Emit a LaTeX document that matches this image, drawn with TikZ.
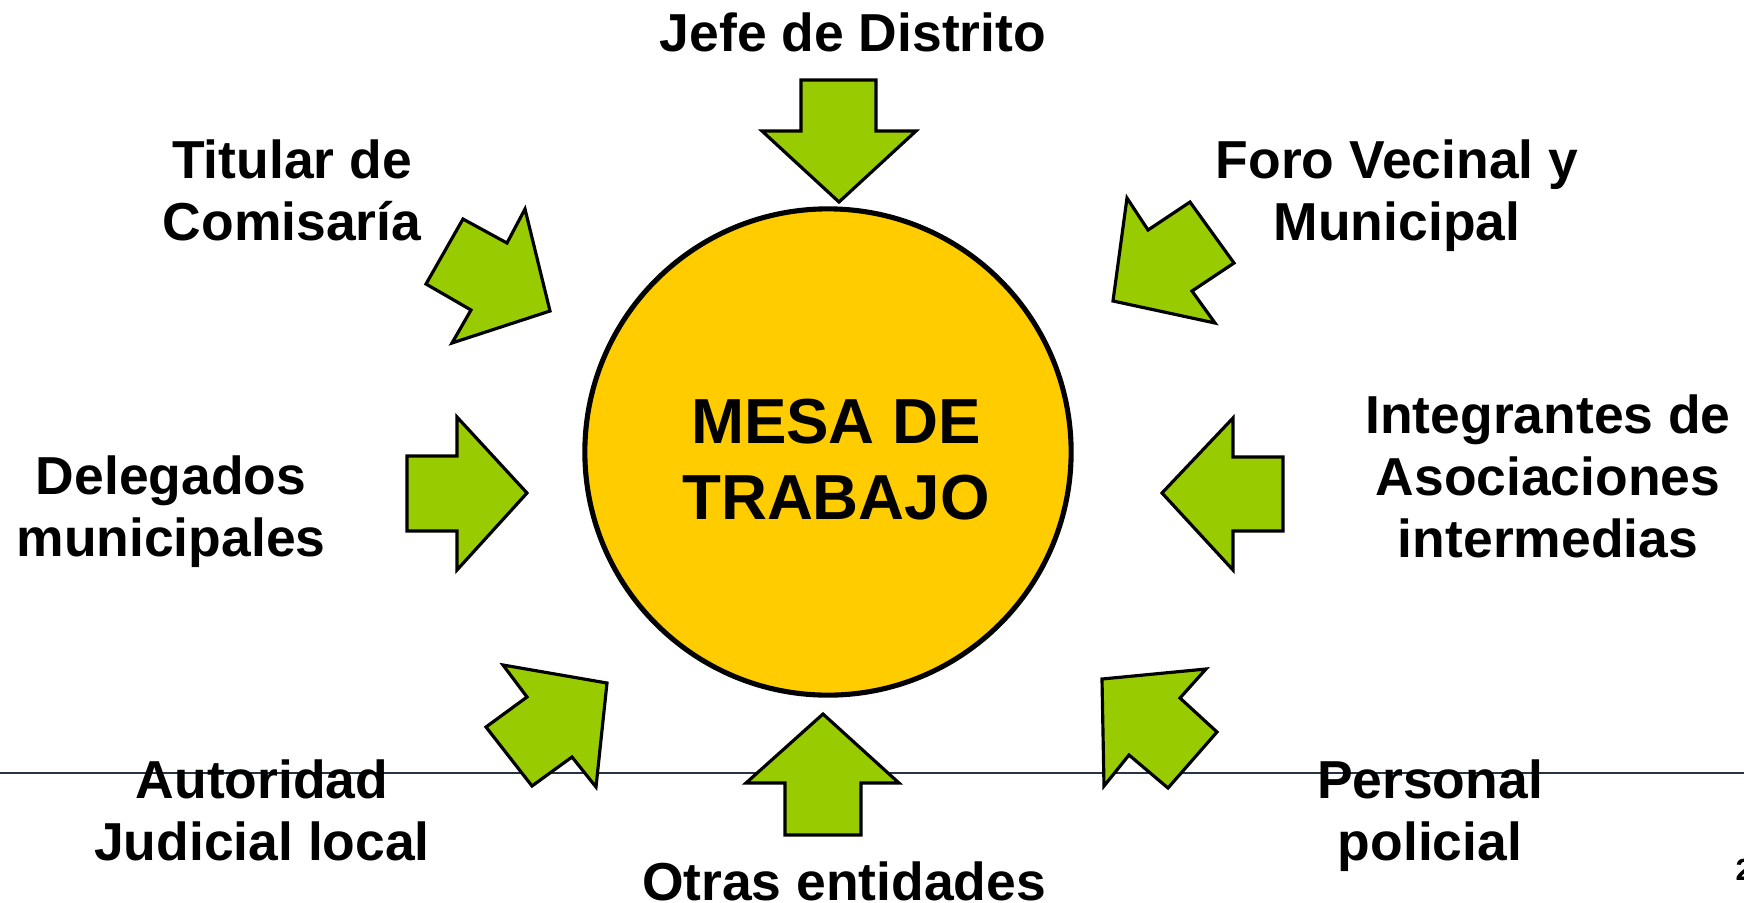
\documentclass[tikz,border=0pt]{standalone}
\usepackage{fontspec}
\setmainfont{Liberation Sans}
\usepackage{tikz}

\definecolor{verde}{RGB}{153,204,0}
\definecolor{amarillo}{RGB}{255,204,0}
\definecolor{raya}{RGB}{38,52,68}

\begin{document}
\begin{tikzpicture}[x=0.01cm,y=-0.01cm]
	\useasboundingbox (0,0) rectangle (1744,902);
	
	\tikzstyle{flecha}=[fill=verde,draw=black,line width=0.9pt,line join=miter]
	
	\tikzstyle{rotulo}=[inner sep=0pt,anchor=base,align=center,font=\fontsize{15.2}{17.6}\selectfont\bfseries]
	
	\draw[raya,line width=0.45pt] (0,773) -- (1744,773);
	
	\node[draw,line width=1.45pt,fill=amarillo,shape=circle,minimum size=4.86cm,inner sep=0pt](mesa) at (828,452){};
	\node[inner sep=0pt,align=center,font=\fontsize{18.1}{21.6}\selectfont\bfseries](mesaTexto) at (836,460){MESA DE\\TRABAJO};
	
	% flechas hacia la mesa
	\filldraw[flecha] (801,80) -- (876,80) -- (876,131) -- (916,131) -- (839,202) -- (762,131) -- (801,131) -- cycle;
	\filldraw[flecha] (463,219) -- (507,243) -- (525,209) -- (550,311) -- (452,343) -- (471,310) -- (426,284) -- cycle;
	\filldraw[flecha] (1190,202) -- (1148,230) -- (1127,198) -- (1113,301) -- (1215,323) -- (1192,291) -- (1234,263) -- cycle;
	\filldraw[flecha] (407,456) -- (457,456) -- (457,417) -- (527,493) -- (457,570) -- (457,531) -- (407,531) -- cycle;
	\filldraw[flecha] (1283,457) -- (1233,457) -- (1233,418) -- (1162,493) -- (1233,570) -- (1233,531) -- (1283,531) -- cycle;
	\filldraw[flecha] (503,665) -- (607,683) -- (596,787) -- (572,757) -- (532,786) -- (486,727) -- (527,697) -- cycle;
	\filldraw[flecha] (823,714) -- (899,783) -- (861,783) -- (861,835) -- (785,835) -- (785,783) -- (746,783) -- cycle;
	\filldraw[flecha] (1102,679) -- (1206,669) -- (1180,698) -- (1217,732) -- (1168,788) -- (1129,755) -- (1104,786) -- cycle;
	
	% el ancla base cae en la ultima linea
	\node[rotulo](jefe) at (853,51){Jefe de Distrito};
	\node[rotulo](titular) at (292,240){Titular de\\Comisaría};
	\node[rotulo](foro) at (1397,240){Foro Vecinal y\\Municipal};
	\node[rotulo](delegados) at (171,556){Delegados\\municipales};
	\node[rotulo](integrantes) at (1548,557){Integrantes de\\Asociaciones\\intermedias};
	\node[rotulo](autoridad) at (262,860){Autoridad\\Judicial local};
	\node[rotulo](personal) at (1430,860){Personal\\policial};
	\node[rotulo](otras) at (844,900){Otras entidades};
	
	\node[inner sep=0pt,anchor=base west,font=\fontsize{8.7}{10}\selectfont\bfseries](pagina) at (1735,880){2};
	
\end{tikzpicture}
\end{document}
